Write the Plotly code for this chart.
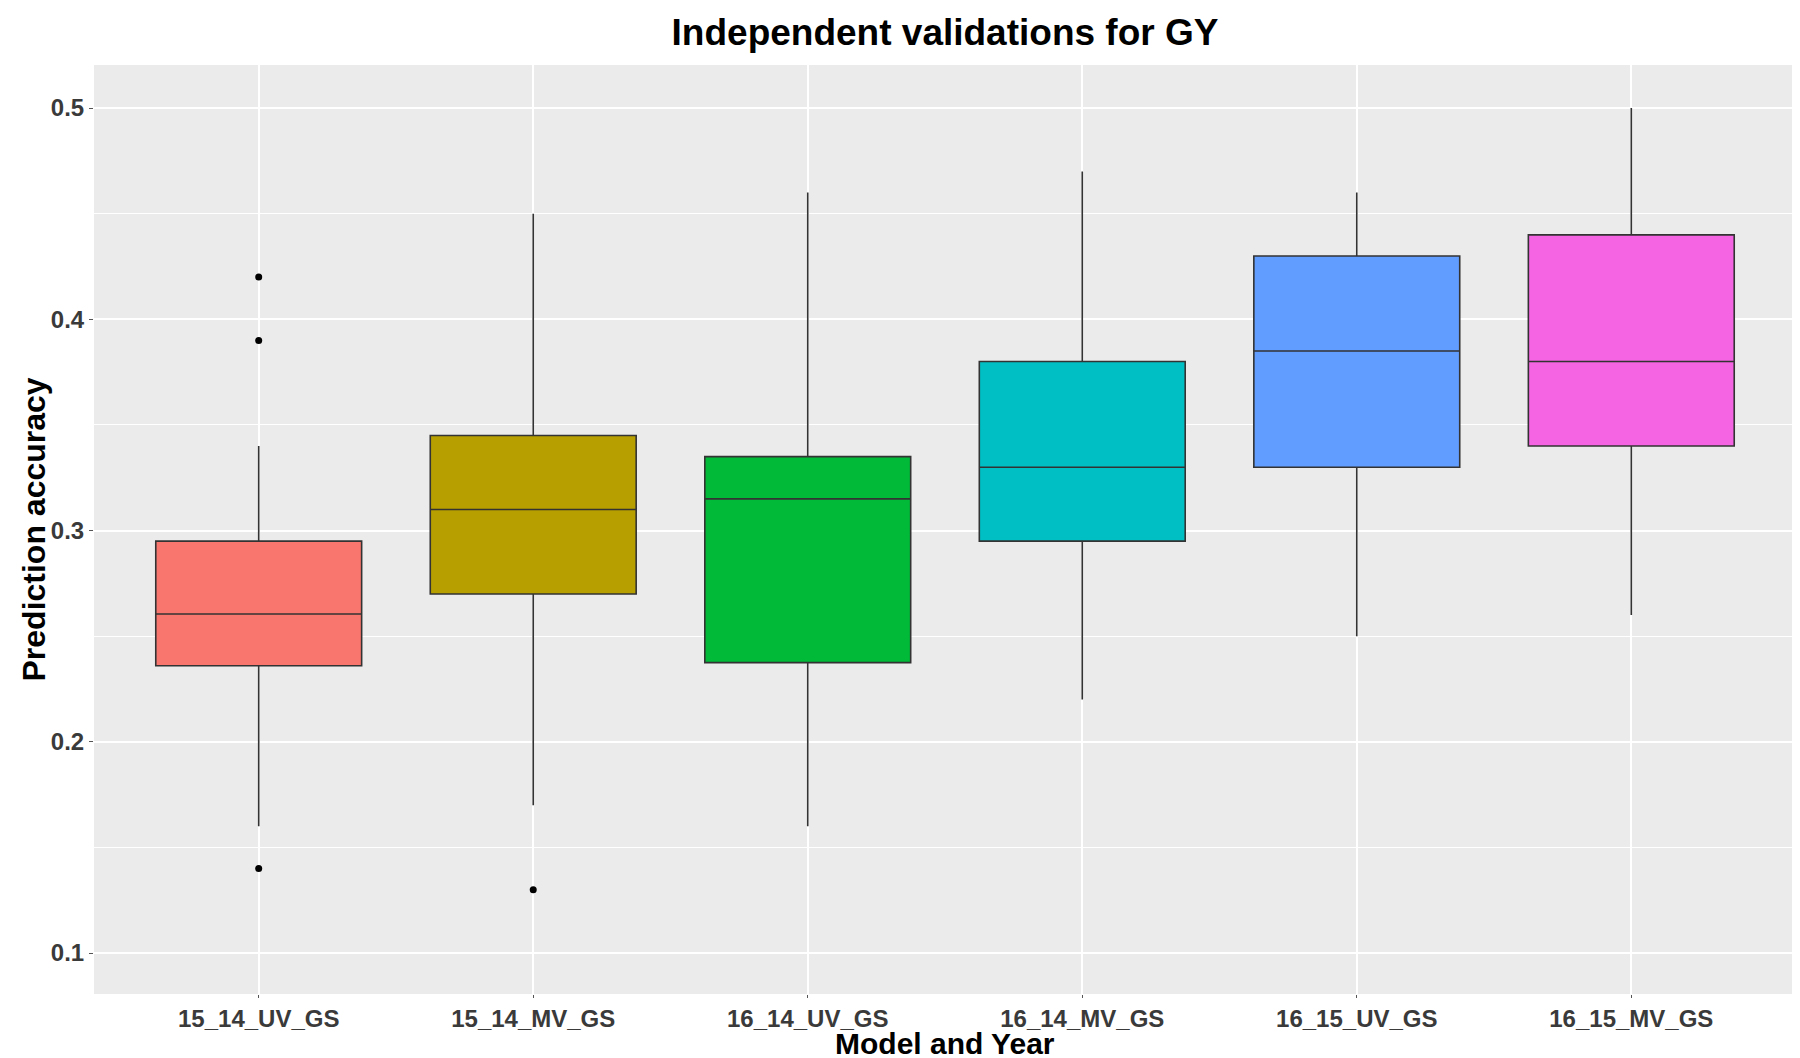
import plotly.graph_objects as go

# values
models = ["15_14_UV_GS", "15_14_MV_GS", "16_14_UV_GS", "16_14_MV_GS", "16_15_UV_GS", "16_15_MV_GS"]
lower_whisker = [0.16, 0.17, 0.16, 0.22, 0.25, 0.26]
q1 = [0.236, 0.27, 0.2375, 0.295, 0.33, 0.34]
median = [0.2605, 0.31, 0.315, 0.33, 0.385, 0.38]
q3 = [0.295, 0.345, 0.335, 0.38, 0.43, 0.44]
upper_whisker = [0.34, 0.45, 0.46, 0.47, 0.46, 0.50]
colors = ["#F8766D", "#B79F00", "#00BA38", "#00BFC4", "#619CFF", "#F564E3"]

outlier_model = ["15_14_UV_GS", "15_14_UV_GS", "15_14_UV_GS", "15_14_MV_GS"]
outlier_value = [0.42, 0.39, 0.14, 0.13]

FONT = "Liberation Sans, Arial, sans-serif"

fig = go.Figure()
for i, m in enumerate(models):
    fig.add_trace(go.Box(
        x=[m], q1=[q1[i]], median=[median[i]], q3=[q3[i]],
        lowerfence=[lower_whisker[i]], upperfence=[upper_whisker[i]],
        fillcolor=colors[i], line=dict(color="#333333", width=1.6),
        width=0.75, whiskerwidth=0, boxpoints=False, name=m,
        showlegend=False, hoverinfo="y"))

fig.add_trace(go.Scatter(
    x=outlier_model, y=outlier_value, mode="markers",
    marker=dict(color="black", size=7), showlegend=False))

fig.update_layout(
    width=1800, height=1058,
    paper_bgcolor="white", plot_bgcolor="#EBEBEB",
    margin=dict(l=86, r=12, t=57, b=72),
    boxmode="overlay",
    font=dict(family=FONT),
    title=dict(text="Independent validations for GY", x=0.5, xref="paper",
               y=1 - 24 / 1058, yanchor="middle", xanchor="center",
               font=dict(size=37, color="black", weight="bold")),
    annotations=[
        dict(text="Model and Year", xref="paper", yref="paper", x=0.5, y=0,
             yshift=-49, xanchor="center", yanchor="middle", showarrow=False,
             font=dict(size=30, color="black", weight="bold")),
        dict(text="Prediction accuracy", xref="paper", yref="paper", x=0, y=0.5,
             xshift=-61, textangle=-90, xanchor="center", yanchor="middle",
             showarrow=False, font=dict(size=32, color="black", weight="bold")),
    ],
)

fig.update_xaxes(
    categoryorder="array", categoryarray=models, range=[-0.6, 5.6],
    showgrid=True, gridcolor="white", gridwidth=1.5,
    ticks="outside", ticklen=3, tickcolor="#555555",
    tickfont=dict(size=24, color="#3a3a3a", weight="bold"),
    zeroline=False, automargin=False)

fig.update_yaxes(
    range=[0.0806, 0.5204], tickvals=[0.1, 0.2, 0.3, 0.4, 0.5],
    showgrid=True, gridcolor="white", gridwidth=2,
    minor=dict(dtick=0.05, tick0=0, showgrid=True, gridcolor="white", gridwidth=1),
    ticks="outside", ticklen=4, tickcolor="#555555",
    tickfont=dict(size=24, color="#3a3a3a", weight="bold"),
    zeroline=False, automargin=False)

fig.write_html("out.html")
